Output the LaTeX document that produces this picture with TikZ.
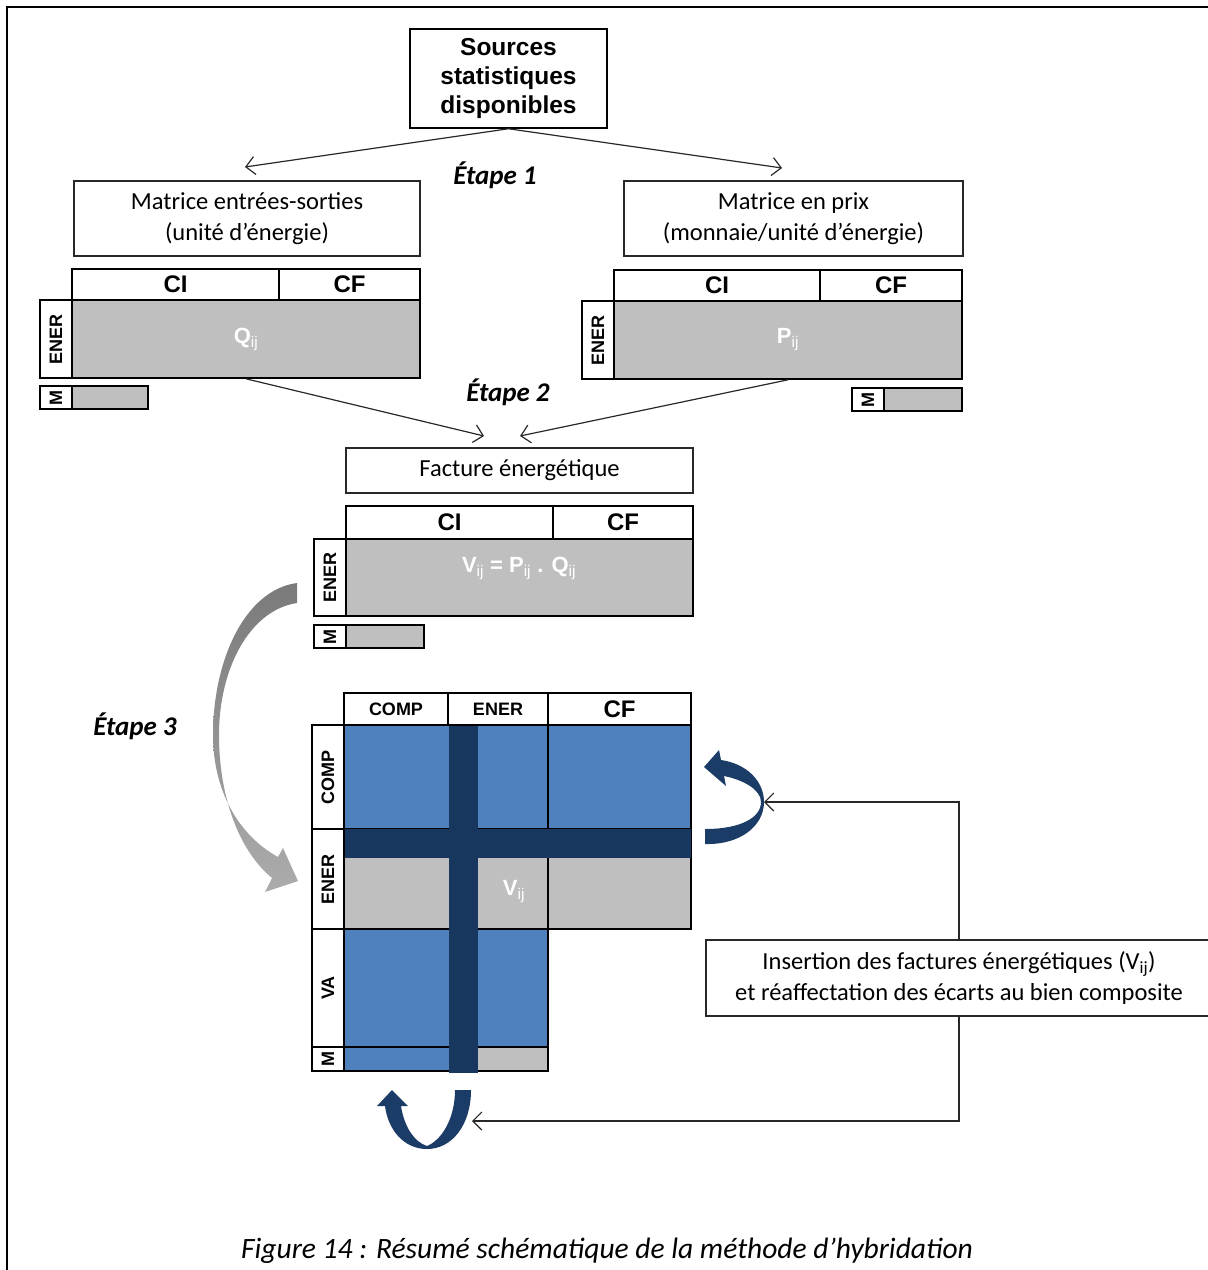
\documentclass[tikz,border=0pt]{standalone}
\usepackage{fontspec}
\setmainfont{Carlito}
\newfontfamily\arialfont{Liberation Sans}
\usetikzlibrary{arrows.meta}

\definecolor{grisQ}{RGB}{191,191,191}
\definecolor{bleu}{RGB}{79,129,189}
\definecolor{marine}{RGB}{23,55,94}
\definecolor{flechebleue}{RGB}{27,60,103}
\definecolor{grisfonce}{RGB}{122,122,122}
\definecolor{grisclair}{RGB}{172,172,172}
\definecolor{trait}{RGB}{40,40,40}

\newcommand{\sbij}{\textsubscript{\mdseries ij}}

\tikzset{
  txtbox/.style={draw=trait, line width=1.2pt, fill=white, align=center, inner sep=0pt,
    font=\fontsize{24.5}{31}\selectfont},
  colhead/.style={draw=black, line width=1.6pt, fill=white, inner sep=0pt,
    font=\arialfont\bfseries\fontsize{24}{28}\selectfont},
  sidehead/.style={colhead, rotate=90, font=\arialfont\bfseries\fontsize{18}{20}\selectfont},
  body/.style={draw=black, line width=1.6pt, fill=grisQ, inner sep=0pt, text=white,
    font=\arialfont\bfseries\fontsize{22}{26}\selectfont},
  conn/.style={draw=trait, line width=1.2pt, -{Straight Barb[length=9pt,width=18pt]}},
  etape/.style={font=\bfseries\itshape\fontsize{27}{30}\selectfont},
}

\begin{document}
\begin{tikzpicture}[x=1pt, y=-1pt]
\useasboundingbox (0,0) rectangle (1208,1270);
% Cadre
\draw[line width=2.5pt] (7,1270) -- (7,7) -- (1208,7);

% Etape 1
\node[txtbox, draw=black, line width=1.5pt, minimum width=197pt, minimum height=99pt,
  font=\arialfont\bfseries\fontsize{24.5}{29}\selectfont] (src) at (508.5,78.5)
  {Sources\\statistiques\\disponibles};
\coordinate (e1l) at (245,167);
\coordinate (e1r) at (782,168);
\draw[conn] (src.south) -- (e1l);
\draw[conn] (src.south) -- (e1r);
\node[etape] (et1) at (495,175) {Étape 1};

\node[txtbox, minimum width=346pt, minimum height=75pt] (mes) at (247,218.5)
  {Matrice entrées-sorties\\(unité d’énergie)};
\node[txtbox, minimum width=339pt, minimum height=75pt] (mpx) at (793.5,218.5)
  {Matrice en prix\\(monnaie/unité d’énergie)};

% Matrice Q
\node[colhead, minimum width=207pt, minimum height=31pt] (qci) at (175.5,284.5) {CI};
\node[colhead, minimum width=141pt, minimum height=31pt] (qcf) at (349.5,284.5) {CF};
\node[body, minimum width=348pt, minimum height=78pt] (qbody) at (246,339) {Q\sbij};
\node[sidehead, minimum width=78pt, minimum height=32pt] (qener) at (56,339) {ENER};
\node[sidehead, minimum width=23pt, minimum height=32pt] (qm) at (56,397.5) {M};
\node[body, minimum width=76pt, minimum height=23pt] (qmg) at (110,397.5) {};

% Matrice P
\node[colhead, minimum width=206pt, minimum height=31pt] (pci) at (717,285.5) {CI};
\node[colhead, minimum width=142pt, minimum height=31pt] (pcf) at (891,285.5) {CF};
\node[body, minimum width=348pt, minimum height=78pt] (pbody) at (788,340) {P\sbij};
\node[sidehead, minimum width=78pt, minimum height=32pt] (pener) at (598,340) {ENER};
\node[sidehead, minimum width=23pt, minimum height=32pt] (pm) at (868,399.5) {M};
\node[body, minimum width=78pt, minimum height=23pt] (pmg) at (923,399.5) {};

% Etape 2
\coordinate (e2l) at (484,436);
\coordinate (e2r) at (520,436);
\draw[conn] (qbody.south) -- (e2l);
\draw[conn] (pbody.south) -- (e2r);
\node[etape] (et2) at (508,392) {Étape 2};

\node[txtbox, minimum width=347pt, minimum height=45pt] (fact) at (519.5,470.5)
  {Facture énergétique};

% Matrice V
\node[colhead, minimum width=207pt, minimum height=33pt] (vci) at (449.5,522.5) {CI};
\node[colhead, minimum width=140pt, minimum height=33pt] (vcf) at (623,522.5) {CF};
\node[body, minimum width=347pt, minimum height=77pt] (vbody) at (519.5,577.5) {};
\node[text=white, font=\arialfont\bfseries\fontsize{22}{26}\selectfont] (vform) at (519,568)
  {V\sbij{} = P\sbij{} . Q\sbij};
\node[sidehead, minimum width=77pt, minimum height=32pt] (vener) at (330,577.5) {ENER};
\node[sidehead, minimum width=23pt, minimum height=32pt] (vm) at (330,636.5) {M};
\node[body, minimum width=78pt, minimum height=23pt] (vmg) at (385,636.5) {};

% Etape 3
\shade[top color=grisfonce, bottom color=grisclair]
  (297,583) .. controls (245,590) and (213,660) .. (213,735)
  .. controls (213,790) and (238,835) .. (278,857)
  -- (283,848) -- (298,881) -- (265,892) -- (272,878)
  .. controls (238,850) and (219,795) .. (219,735)
  .. controls (219,668) and (250,610) .. (297,603) -- cycle;
\node[etape] (et3) at (135,726) {Étape 3};

% Matrice hybride
\fill[bleu] (344,725) rectangle (691,829);
\fill[grisQ] (344,829) rectangle (691,929);
\fill[bleu] (344,929) rectangle (548,1047);
\fill[bleu] (344,1047) rectangle (449,1071);
\fill[grisQ] (478,1047) rectangle (548,1071);
\draw[line width=1.6pt] (344,725) -- (691,725) -- (691,929) -- (548,929) -- (548,1071)
  -- (344,1071) -- cycle;
\draw[line width=1.6pt] (548,725) -- (548,929);
\draw[line width=1.6pt] (344,829) -- (691,829);
\draw[line width=1.6pt] (344,929) -- (548,929);
\draw[line width=1.6pt] (344,1047) -- (548,1047);
\fill[marine] (344,829) rectangle (691,858);
\fill[marine] (449,725) rectangle (478,1073);
\node[text=white, font=\arialfont\bfseries\fontsize{22}{26}\selectfont] (vij) at (514,892) {V\sbij};

\node[colhead, minimum width=104pt, minimum height=32pt,
  font=\arialfont\bfseries\fontsize{18}{20}\selectfont] (hcomp) at (396,709) {COMP};
\node[colhead, minimum width=100pt, minimum height=32pt,
  font=\arialfont\bfseries\fontsize{18}{20}\selectfont] (hener) at (498,709) {ENER};
\node[colhead, minimum width=143pt, minimum height=32pt] (hcf) at (619.5,709) {CF};
\node[sidehead, minimum width=104pt, minimum height=32pt] (rcomp) at (328,777) {COMP};
\node[sidehead, minimum width=100pt, minimum height=32pt] (rener) at (328,879) {ENER};
\node[sidehead, minimum width=118pt, minimum height=32pt] (rva) at (328,988) {VA};
\node[sidehead, minimum width=24pt, minimum height=32pt] (rm) at (328,1059) {M};

% Fleches de reaffectation
\fill[flechebleue] (705,844) .. controls (740,845) and (764,826) .. (764,802)
  .. controls (764,782) and (748,764) .. (721,760)
  -- (719,750) -- (704,767) -- (726,786) -- (724,776)
  .. controls (744,780) and (761,790) .. (761,802)
  .. controls (761,818) and (740,829) .. (705,829) -- cycle;
\fill[flechebleue] (471,1090) .. controls (471,1125) and (452,1149) .. (427,1149)
  .. controls (404,1149) and (388,1130) .. (385,1106)
  -- (377,1106) -- (392,1090) -- (408,1106) -- (401,1106)
  .. controls (404,1126) and (414,1142) .. (427,1146)
  .. controls (442,1140) and (455,1118) .. (455,1090) -- cycle;

\node[txtbox, minimum width=506pt, minimum height=76pt] (ins) at (959,978)
  {Insertion des factures énergétiques (V\sbij)\\et réaffectation des écarts au bien composite};
\coordinate (rtip) at (764,802);
\coordinate (btip) at (472,1121);
\draw[conn] (ins.north) |- (rtip);
\draw[conn] (ins.south) |- (btip);

% Legende
\node[font=\itshape\fontsize{29.5}{33}\selectfont] (legende) at (607,1251)
  {Figure 14 : Résumé schématique de la méthode d’hybridation};
\end{tikzpicture}
\end{document}
